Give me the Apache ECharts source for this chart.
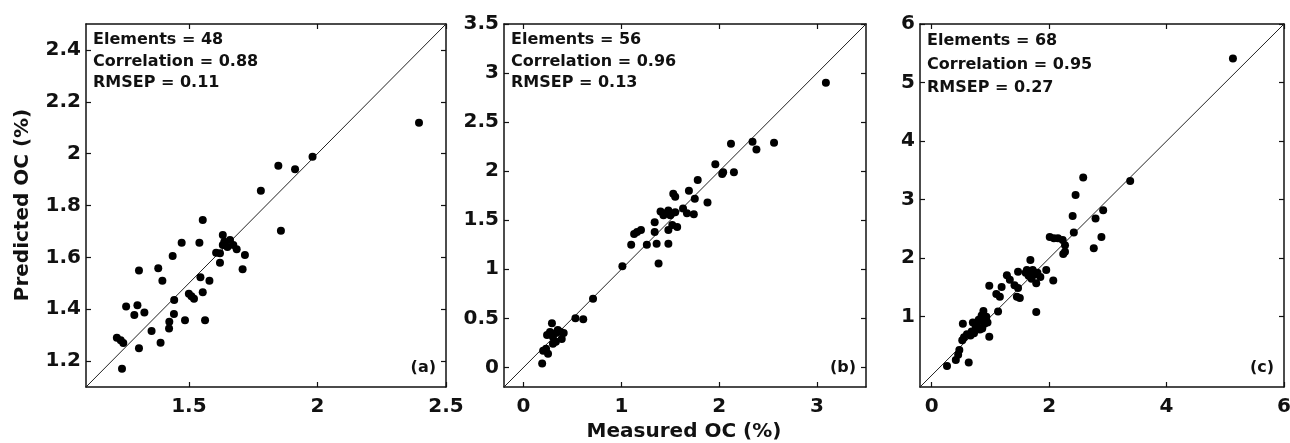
<!DOCTYPE html>
<html>
<head>
<meta charset="utf-8">
<script src="https://cdn.jsdelivr.net/npm/echarts@6/dist/echarts.min.js"></script>
<style>
html,body{margin:0;padding:0;background:#fff;}
#chart{width:1290px;height:443px;}
</style>
</head>
<body>
<div id="chart"></div>
<script>
// ---------- data ----------
const limitsA = [1.1, 2.5];
const limitsB = [-0.2, 3.5];
const limitsC = [-0.2, 6];

const xTicksA = [1.5, 2, 2.5];
const yTicksA = [1.2, 1.4, 1.6, 1.8, 2, 2.2, 2.4];
const xTicksB = [0, 1, 2, 3];
const yTicksB = [0, 0.5, 1, 1.5, 2, 2.5, 3, 3.5];
const xTicksC = [0, 2, 4, 6];
const yTicksC = [1, 2, 3, 4, 5, 6];

const statsA = ['Elements = 48', 'Correlation = 0.88', 'RMSEP = 0.11'];
const statsB = ['Elements = 56', 'Correlation = 0.96', 'RMSEP = 0.13'];
const statsC = ['Elements = 68', 'Correlation = 0.95', 'RMSEP = 0.27'];
const panelTags = ['(a)', '(b)', '(c)'];

// [measured, predicted]
const pointsA = [
  [1.22,1.29],[1.235,1.28],[1.245,1.27],[1.24,1.17],[1.256,1.41],[1.3,1.415],
  [1.288,1.378],[1.327,1.387],[1.306,1.549],[1.306,1.249],[1.355,1.316],[1.39,1.271],
  [1.381,1.558],[1.397,1.51],[1.437,1.605],[1.472,1.656],[1.541,1.656],[1.554,1.744],
  [1.443,1.436],[1.442,1.382],[1.424,1.352],[1.423,1.326],[1.485,1.357],[1.5,1.46],
  [1.52,1.44],[1.51,1.45],[1.545,1.523],[1.58,1.51],[1.554,1.465],[1.563,1.357],
  [1.606,1.618],[1.621,1.616],[1.621,1.579],[1.632,1.686],[1.638,1.66],[1.66,1.667],
  [1.673,1.648],[1.686,1.631],[1.632,1.648],[1.718,1.609],[1.709,1.554],[1.78,1.857],
  [1.848,1.953],[1.858,1.703],[1.913,1.94],[1.981,1.988],[2.395,2.119],[1.65,1.64]
];
const pointsB = [
  [0.19,0.04],[0.25,0.14],[0.23,0.19],[0.2,0.17],[0.29,0.45],[0.24,0.33],
  [0.27,0.36],[0.3,0.31],[0.33,0.35],[0.35,0.38],[0.38,0.36],[0.41,0.35],
  [0.33,0.26],[0.39,0.29],[0.3,0.24],[0.53,0.5],[0.61,0.49],[0.71,0.7],
  [1.01,1.03],[1.38,1.06],[1.1,1.25],[1.26,1.25],[1.36,1.26],[1.48,1.26],
  [1.13,1.36],[1.16,1.38],[1.2,1.4],[1.34,1.48],[1.34,1.38],[1.48,1.4],
  [1.52,1.45],[1.57,1.43],[1.4,1.59],[1.45,1.57],[1.48,1.6],[1.5,1.55],
  [1.43,1.55],[1.55,1.58],[1.63,1.62],[1.67,1.57],[1.74,1.56],[1.53,1.77],
  [1.55,1.74],[1.75,1.72],[1.88,1.68],[1.69,1.8],[1.78,1.91],[1.96,2.07],
  [2.03,1.97],[2.04,1.99],[2.15,1.99],[2.12,2.28],[2.34,2.3],[2.38,2.22],
  [2.56,2.29],[3.09,2.9]
];
const pointsC = [
  [0.26,0.16],[0.41,0.26],[0.45,0.35],[0.47,0.43],[0.63,0.22],[0.53,0.88],
  [0.52,0.6],[0.55,0.65],[0.6,0.7],[0.66,0.68],[0.72,0.72],[0.75,0.83],
  [0.7,0.9],[0.8,0.95],[0.85,1.02],[0.88,1.1],[0.9,0.88],[0.82,0.78],
  [0.95,0.9],[0.98,0.66],[0.78,0.9],[0.86,0.8],[0.93,1.0],[1.13,1.09],
  [0.98,1.53],[1.1,1.39],[1.16,1.34],[1.19,1.51],[1.28,1.71],[1.33,1.63],
  [1.41,1.54],[1.47,1.49],[1.45,1.34],[1.5,1.32],[1.47,1.77],[1.6,1.75],
  [1.65,1.7],[1.7,1.65],[1.75,1.72],[1.68,1.97],[1.72,1.8],[1.8,1.75],
  [1.78,1.57],[1.85,1.68],[1.62,1.8],[1.95,1.8],[2.07,1.62],[1.78,1.08],
  [2.01,2.36],[2.08,2.34],[2.15,2.34],[2.23,2.31],[2.27,2.22],[2.27,2.11],
  [2.24,2.07],[2.42,2.44],[2.4,2.72],[2.45,3.08],[2.58,3.38],[2.79,2.68],
  [2.92,2.82],[2.89,2.36],[2.76,2.17],[3.38,3.32],[5.13,5.41],[1.7,1.72],
  [0.68,0.75],[0.92,0.95]
];

const yTitle = 'Predicted OC (%)';
const xTitle = 'Measured OC (%)';

// ---------- layout / style ----------
const FONT = '"DejaVu Sans", sans-serif';
const INK = '#111';
const grids = [
  {left: 86, top: 24, width: 360, height: 363},
  {left: 504, top: 24, width: 362, height: 363},
  {left: 920, top: 24, width: 364, height: 363}
];
const panels = [
  {lim: limitsA, xt: xTicksA, yt: yTicksA, pts: pointsA, stats: statsA, statY: [40, 62, 83]},
  {lim: limitsB, xt: xTicksB, yt: yTicksB, pts: pointsB, stats: statsB, statY: [40, 62, 83]},
  {lim: limitsC, xt: xTicksC, yt: yTicksC, pts: pointsC, stats: statsC, statY: [41, 65, 88]}
];

const lineStyle = {color: INK, width: 1.5};
const labelStyle = {fontSize: 20, fontWeight: 'bold', fontFamily: FONT, color: INK};

const option = {
  animation: false,
  backgroundColor: '#fff',
  grid: [], xAxis: [], yAxis: [], series: [], graphic: []
};

panels.forEach((p, i) => {
  option.grid.push(Object.assign({outerBoundsMode: 'none', containLabel: false}, grids[i]));
  ['bottom', 'top'].forEach((pos, k) => {
    option.xAxis.push({
      gridIndex: i, type: 'value', position: pos, min: p.lim[0], max: p.lim[1],
      axisLine: {show: true, onZero: false, lineStyle},
      axisTick: {show: true, inside: true, length: 5, customValues: p.xt, lineStyle: {color: INK, width: 1.2}},
      axisLabel: Object.assign({show: k === 0, customValues: p.xt, margin: 10}, labelStyle),
      splitLine: {show: false}
    });
  });
  ['left', 'right'].forEach((pos, k) => {
    option.yAxis.push({
      gridIndex: i, type: 'value', position: pos, min: p.lim[0], max: p.lim[1],
      axisLine: {show: true, onZero: false, lineStyle},
      axisTick: {show: true, inside: true, length: 5, customValues: p.yt, lineStyle: {color: INK, width: 1.2}},
      axisLabel: Object.assign({show: k === 0, customValues: p.yt, margin: 5}, labelStyle),
      splitLine: {show: false}
    });
  });
  option.series.push({
    type: 'line', xAxisIndex: 2 * i, yAxisIndex: 2 * i,
    data: [[p.lim[0], p.lim[0]], [p.lim[1], p.lim[1]]],
    showSymbol: false, symbol: 'none',
    lineStyle: {color: '#222', width: 1}, silent: true, z: 2
  });
  option.series.push({
    type: 'scatter', xAxisIndex: 2 * i, yAxisIndex: 2 * i,
    data: p.pts, symbol: 'circle', symbolSize: 8,
    itemStyle: {color: '#000', opacity: 1}, z: 3
  });
  const g = grids[i];
  p.stats.forEach((t, j) => {
    option.graphic.push({
      type: 'text', x: g.left + 7, y: p.statY[j], z: 10,
      style: {text: t, fontSize: 16, fontWeight: 'bold', fontFamily: FONT, fill: INK,
              align: 'left', verticalAlign: 'middle'}
    });
  });
  option.graphic.push({
    type: 'text', x: g.left + g.width - 10, y: 368, z: 10,
    style: {text: panelTags[i], fontSize: 16, fontWeight: 'bold', fontFamily: FONT, fill: INK,
            align: 'right', verticalAlign: 'middle'}
  });
});

option.graphic.push({
  type: 'text', x: 23, y: 205, rotation: Math.PI / 2,
  style: {text: yTitle, fontSize: 20, fontWeight: 'bold', fontFamily: FONT, fill: INK,
          align: 'center', verticalAlign: 'middle'}
});
option.graphic.push({
  type: 'text', x: 684, y: 432,
  style: {text: xTitle, fontSize: 20, fontWeight: 'bold', fontFamily: FONT, fill: INK,
          align: 'center', verticalAlign: 'middle'}
});

const chart = echarts.init(document.getElementById('chart'), null, {renderer: 'canvas'});
chart.setOption(option);
</script>
</body>
</html>
